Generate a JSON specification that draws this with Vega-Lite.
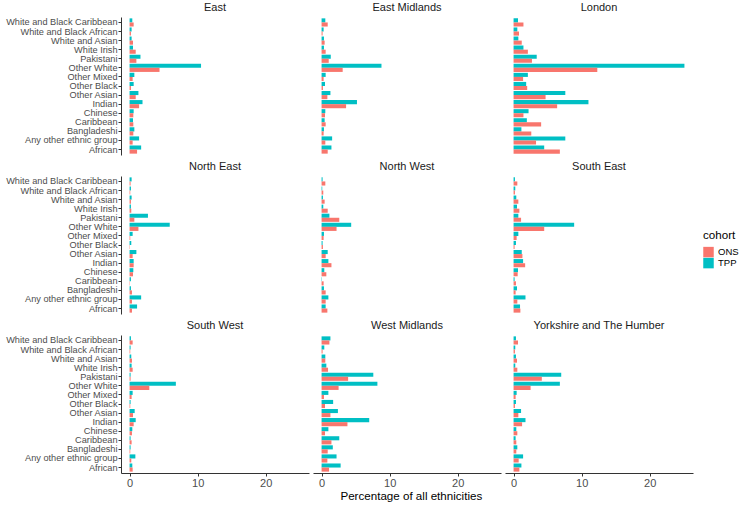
{
  "$schema": "https://vega.github.io/schema/vega-lite/v6.json",
  "padding": {"left": 5, "top": 2, "right": 5, "bottom": 5},
  "background": "white",
  "title": {"text": "Percentage of all ethnicities", "orient": "bottom", "anchor": "middle", "dx": 39, "fontSize": 11.6, "fontWeight": "normal", "color": "#000000", "offset": 3, "font": "Liberation Sans"},
  "datasets": {
    "d": [
      {"r":"East","e":"White and Black Caribbean","c":"TPP","v":0.4},{"r":"East","e":"White and Black Caribbean","c":"ONS","v":0.6},
      {"r":"East","e":"White and Black African","c":"TPP","v":0.3},{"r":"East","e":"White and Black African","c":"ONS","v":0.2},
      {"r":"East","e":"White and Asian","c":"TPP","v":0.3},{"r":"East","e":"White and Asian","c":"ONS","v":0.5},
      {"r":"East","e":"White Irish","c":"TPP","v":0.5},{"r":"East","e":"White Irish","c":"ONS","v":0.9},
      {"r":"East","e":"Pakistani","c":"TPP","v":1.6},{"r":"East","e":"Pakistani","c":"ONS","v":1.0},
      {"r":"East","e":"Other White","c":"TPP","v":10.5},{"r":"East","e":"Other White","c":"ONS","v":4.4},
      {"r":"East","e":"Other Mixed","c":"TPP","v":0.7},{"r":"East","e":"Other Mixed","c":"ONS","v":0.45},
      {"r":"East","e":"Other Black","c":"TPP","v":0.6},{"r":"East","e":"Other Black","c":"ONS","v":0.2},
      {"r":"East","e":"Other Asian","c":"TPP","v":1.3},{"r":"East","e":"Other Asian","c":"ONS","v":0.9},
      {"r":"East","e":"Indian","c":"TPP","v":1.9},{"r":"East","e":"Indian","c":"ONS","v":1.4},
      {"r":"East","e":"Chinese","c":"TPP","v":0.6},{"r":"East","e":"Chinese","c":"ONS","v":0.55},
      {"r":"East","e":"Caribbean","c":"TPP","v":0.5},{"r":"East","e":"Caribbean","c":"ONS","v":0.55},
      {"r":"East","e":"Bangladeshi","c":"TPP","v":0.7},{"r":"East","e":"Bangladeshi","c":"ONS","v":0.55},
      {"r":"East","e":"Any other ethnic group","c":"TPP","v":1.4},{"r":"East","e":"Any other ethnic group","c":"ONS","v":0.45},
      {"r":"East","e":"African","c":"TPP","v":1.7},{"r":"East","e":"African","c":"ONS","v":1.1},

      {"r":"East Midlands","e":"White and Black Caribbean","c":"TPP","v":0.55},{"r":"East Midlands","e":"White and Black Caribbean","c":"ONS","v":0.9},
      {"r":"East Midlands","e":"White and Black African","c":"TPP","v":0.3},{"r":"East Midlands","e":"White and Black African","c":"ONS","v":0.15},
      {"r":"East Midlands","e":"White and Asian","c":"TPP","v":0.35},{"r":"East Midlands","e":"White and Asian","c":"ONS","v":0.45},
      {"r":"East Midlands","e":"White Irish","c":"TPP","v":0.35},{"r":"East Midlands","e":"White Irish","c":"ONS","v":0.6},
      {"r":"East Midlands","e":"Pakistani","c":"TPP","v":1.35},{"r":"East Midlands","e":"Pakistani","c":"ONS","v":1.05},
      {"r":"East Midlands","e":"Other White","c":"TPP","v":8.8},{"r":"East Midlands","e":"Other White","c":"ONS","v":3.1},
      {"r":"East Midlands","e":"Other Mixed","c":"TPP","v":0.6},{"r":"East Midlands","e":"Other Mixed","c":"ONS","v":0.3},
      {"r":"East Midlands","e":"Other Black","c":"TPP","v":0.5},{"r":"East Midlands","e":"Other Black","c":"ONS","v":0.2},
      {"r":"East Midlands","e":"Other Asian","c":"TPP","v":1.3},{"r":"East Midlands","e":"Other Asian","c":"ONS","v":0.85},
      {"r":"East Midlands","e":"Indian","c":"TPP","v":5.2},{"r":"East Midlands","e":"Indian","c":"ONS","v":3.6},
      {"r":"East Midlands","e":"Chinese","c":"TPP","v":0.55},{"r":"East Midlands","e":"Chinese","c":"ONS","v":0.5},
      {"r":"East Midlands","e":"Caribbean","c":"TPP","v":0.45},{"r":"East Midlands","e":"Caribbean","c":"ONS","v":0.6},
      {"r":"East Midlands","e":"Bangladeshi","c":"TPP","v":0.35},{"r":"East Midlands","e":"Bangladeshi","c":"ONS","v":0.3},
      {"r":"East Midlands","e":"Any other ethnic group","c":"TPP","v":1.55},{"r":"East Midlands","e":"Any other ethnic group","c":"ONS","v":0.55},
      {"r":"East Midlands","e":"African","c":"TPP","v":1.45},{"r":"East Midlands","e":"African","c":"ONS","v":0.9},

      {"r":"London","e":"White and Black Caribbean","c":"TPP","v":0.65},{"r":"London","e":"White and Black Caribbean","c":"ONS","v":1.45},
      {"r":"London","e":"White and Black African","c":"TPP","v":0.55},{"r":"London","e":"White and Black African","c":"ONS","v":0.8},
      {"r":"London","e":"White and Asian","c":"TPP","v":0.7},{"r":"London","e":"White and Asian","c":"ONS","v":1.2},
      {"r":"London","e":"White Irish","c":"TPP","v":1.45},{"r":"London","e":"White Irish","c":"ONS","v":2.1},
      {"r":"London","e":"Pakistani","c":"TPP","v":3.4},{"r":"London","e":"Pakistani","c":"ONS","v":2.7},
      {"r":"London","e":"Other White","c":"TPP","v":25.1},{"r":"London","e":"Other White","c":"ONS","v":12.3},
      {"r":"London","e":"Other Mixed","c":"TPP","v":2.1},{"r":"London","e":"Other Mixed","c":"ONS","v":1.4},
      {"r":"London","e":"Other Black","c":"TPP","v":1.85},{"r":"London","e":"Other Black","c":"ONS","v":2.0},
      {"r":"London","e":"Other Asian","c":"TPP","v":7.6},{"r":"London","e":"Other Asian","c":"ONS","v":4.7},
      {"r":"London","e":"Indian","c":"TPP","v":11.0},{"r":"London","e":"Indian","c":"ONS","v":6.4},
      {"r":"London","e":"Chinese","c":"TPP","v":2.2},{"r":"London","e":"Chinese","c":"ONS","v":1.45},
      {"r":"London","e":"Caribbean","c":"TPP","v":1.95},{"r":"London","e":"Caribbean","c":"ONS","v":4.05},
      {"r":"London","e":"Bangladeshi","c":"TPP","v":1.15},{"r":"London","e":"Bangladeshi","c":"ONS","v":2.6},
      {"r":"London","e":"Any other ethnic group","c":"TPP","v":7.6},{"r":"London","e":"Any other ethnic group","c":"ONS","v":3.3},
      {"r":"London","e":"African","c":"TPP","v":4.5},{"r":"London","e":"African","c":"ONS","v":6.8},

      {"r":"North East","e":"White and Black Caribbean","c":"TPP","v":0.3},{"r":"North East","e":"White and Black Caribbean","c":"ONS","v":0.15},
      {"r":"North East","e":"White and Black African","c":"TPP","v":0.2},{"r":"North East","e":"White and Black African","c":"ONS","v":0.1},
      {"r":"North East","e":"White and Asian","c":"TPP","v":0.3},{"r":"North East","e":"White and Asian","c":"ONS","v":0.2},
      {"r":"North East","e":"White Irish","c":"TPP","v":0.2},{"r":"North East","e":"White Irish","c":"ONS","v":0.25},
      {"r":"North East","e":"Pakistani","c":"TPP","v":2.7},{"r":"North East","e":"Pakistani","c":"ONS","v":0.7},
      {"r":"North East","e":"Other White","c":"TPP","v":5.9},{"r":"North East","e":"Other White","c":"ONS","v":1.3},
      {"r":"North East","e":"Other Mixed","c":"TPP","v":0.45},{"r":"North East","e":"Other Mixed","c":"ONS","v":0.1},
      {"r":"North East","e":"Other Black","c":"TPP","v":0.25},{"r":"North East","e":"Other Black","c":"ONS","v":0.05},
      {"r":"North East","e":"Other Asian","c":"TPP","v":1.0},{"r":"North East","e":"Other Asian","c":"ONS","v":0.45},
      {"r":"North East","e":"Indian","c":"TPP","v":0.6},{"r":"North East","e":"Indian","c":"ONS","v":0.6},
      {"r":"North East","e":"Chinese","c":"TPP","v":0.55},{"r":"North East","e":"Chinese","c":"ONS","v":0.5},
      {"r":"North East","e":"Caribbean","c":"TPP","v":0.2},{"r":"North East","e":"Caribbean","c":"ONS","v":0.05},
      {"r":"North East","e":"Bangladeshi","c":"TPP","v":0.2},{"r":"North East","e":"Bangladeshi","c":"ONS","v":0.35},
      {"r":"North East","e":"Any other ethnic group","c":"TPP","v":1.7},{"r":"North East","e":"Any other ethnic group","c":"ONS","v":0.35},
      {"r":"North East","e":"African","c":"TPP","v":1.1},{"r":"North East","e":"African","c":"ONS","v":0.35},

      {"r":"North West","e":"White and Black Caribbean","c":"TPP","v":0.15},{"r":"North West","e":"White and Black Caribbean","c":"ONS","v":0.55},
      {"r":"North West","e":"White and Black African","c":"TPP","v":0.1},{"r":"North West","e":"White and Black African","c":"ONS","v":0.25},
      {"r":"North West","e":"White and Asian","c":"TPP","v":0.2},{"r":"North West","e":"White and Asian","c":"ONS","v":0.45},
      {"r":"North West","e":"White Irish","c":"TPP","v":0.25},{"r":"North West","e":"White Irish","c":"ONS","v":0.9},
      {"r":"North West","e":"Pakistani","c":"TPP","v":1.15},{"r":"North West","e":"Pakistani","c":"ONS","v":2.6},
      {"r":"North West","e":"Other White","c":"TPP","v":4.35},{"r":"North West","e":"Other White","c":"ONS","v":2.2},
      {"r":"North West","e":"Other Mixed","c":"TPP","v":0.35},{"r":"North West","e":"Other Mixed","c":"ONS","v":0.3},
      {"r":"North West","e":"Other Black","c":"TPP","v":0.15},{"r":"North West","e":"Other Black","c":"ONS","v":0.2},
      {"r":"North West","e":"Other Asian","c":"TPP","v":0.9},{"r":"North West","e":"Other Asian","c":"ONS","v":0.6},
      {"r":"North West","e":"Indian","c":"TPP","v":1.0},{"r":"North West","e":"Indian","c":"ONS","v":1.45},
      {"r":"North West","e":"Chinese","c":"TPP","v":0.4},{"r":"North West","e":"Chinese","c":"ONS","v":0.7},
      {"r":"North West","e":"Caribbean","c":"TPP","v":0.05},{"r":"North West","e":"Caribbean","c":"ONS","v":0.3},
      {"r":"North West","e":"Bangladeshi","c":"TPP","v":0.35},{"r":"North West","e":"Bangladeshi","c":"ONS","v":0.6},
      {"r":"North West","e":"Any other ethnic group","c":"TPP","v":1.0},{"r":"North West","e":"Any other ethnic group","c":"ONS","v":0.6},
      {"r":"North West","e":"African","c":"TPP","v":0.6},{"r":"North West","e":"African","c":"ONS","v":0.85},

      {"r":"South East","e":"White and Black Caribbean","c":"TPP","v":0.2},{"r":"South East","e":"White and Black Caribbean","c":"ONS","v":0.55},
      {"r":"South East","e":"White and Black African","c":"TPP","v":0.25},{"r":"South East","e":"White and Black African","c":"ONS","v":0.2},
      {"r":"South East","e":"White and Asian","c":"TPP","v":0.4},{"r":"South East","e":"White and Asian","c":"ONS","v":0.7},
      {"r":"South East","e":"White Irish","c":"TPP","v":0.5},{"r":"South East","e":"White Irish","c":"ONS","v":0.85},
      {"r":"South East","e":"Pakistani","c":"TPP","v":0.7},{"r":"South East","e":"Pakistani","c":"ONS","v":1.1},
      {"r":"South East","e":"Other White","c":"TPP","v":8.9},{"r":"South East","e":"Other White","c":"ONS","v":4.5},
      {"r":"South East","e":"Other Mixed","c":"TPP","v":0.7},{"r":"South East","e":"Other Mixed","c":"ONS","v":0.45},
      {"r":"South East","e":"Other Black","c":"TPP","v":0.35},{"r":"South East","e":"Other Black","c":"ONS","v":0.15},
      {"r":"South East","e":"Other Asian","c":"TPP","v":1.2},{"r":"South East","e":"Other Asian","c":"ONS","v":1.3},
      {"r":"South East","e":"Indian","c":"TPP","v":1.4},{"r":"South East","e":"Indian","c":"ONS","v":1.7},
      {"r":"South East","e":"Chinese","c":"TPP","v":0.65},{"r":"South East","e":"Chinese","c":"ONS","v":0.6},
      {"r":"South East","e":"Caribbean","c":"TPP","v":0.15},{"r":"South East","e":"Caribbean","c":"ONS","v":0.35},
      {"r":"South East","e":"Bangladeshi","c":"TPP","v":0.5},{"r":"South East","e":"Bangladeshi","c":"ONS","v":0.3},
      {"r":"South East","e":"Any other ethnic group","c":"TPP","v":1.75},{"r":"South East","e":"Any other ethnic group","c":"ONS","v":0.55},
      {"r":"South East","e":"African","c":"TPP","v":0.95},{"r":"South East","e":"African","c":"ONS","v":1.0},

      {"r":"South West","e":"White and Black Caribbean","c":"TPP","v":0.2},{"r":"South West","e":"White and Black Caribbean","c":"ONS","v":0.45},
      {"r":"South West","e":"White and Black African","c":"TPP","v":0.15},{"r":"South West","e":"White and Black African","c":"ONS","v":0.1},
      {"r":"South West","e":"White and Asian","c":"TPP","v":0.25},{"r":"South West","e":"White and Asian","c":"ONS","v":0.35},
      {"r":"South West","e":"White Irish","c":"TPP","v":0.3},{"r":"South West","e":"White Irish","c":"ONS","v":0.45},
      {"r":"South West","e":"Pakistani","c":"TPP","v":0.15},{"r":"South West","e":"Pakistani","c":"ONS","v":0.15},
      {"r":"South West","e":"Other White","c":"TPP","v":6.8},{"r":"South West","e":"Other White","c":"ONS","v":2.9},
      {"r":"South West","e":"Other Mixed","c":"TPP","v":0.45},{"r":"South West","e":"Other Mixed","c":"ONS","v":0.3},
      {"r":"South West","e":"Other Black","c":"TPP","v":0.15},{"r":"South West","e":"Other Black","c":"ONS","v":0.1},
      {"r":"South West","e":"Other Asian","c":"TPP","v":0.75},{"r":"South West","e":"Other Asian","c":"ONS","v":0.5},
      {"r":"South West","e":"Indian","c":"TPP","v":0.9},{"r":"South West","e":"Indian","c":"ONS","v":0.6},
      {"r":"South West","e":"Chinese","c":"TPP","v":0.4},{"r":"South West","e":"Chinese","c":"ONS","v":0.35},
      {"r":"South West","e":"Caribbean","c":"TPP","v":0.15},{"r":"South West","e":"Caribbean","c":"ONS","v":0.3},
      {"r":"South West","e":"Bangladeshi","c":"TPP","v":0.15},{"r":"South West","e":"Bangladeshi","c":"ONS","v":0.1},
      {"r":"South West","e":"Any other ethnic group","c":"TPP","v":0.85},{"r":"South West","e":"Any other ethnic group","c":"ONS","v":0.25},
      {"r":"South West","e":"African","c":"TPP","v":0.4},{"r":"South West","e":"African","c":"ONS","v":0.45},

      {"r":"West Midlands","e":"White and Black Caribbean","c":"TPP","v":1.3},{"r":"West Midlands","e":"White and Black Caribbean","c":"ONS","v":1.15},
      {"r":"West Midlands","e":"White and Black African","c":"TPP","v":0.4},{"r":"West Midlands","e":"White and Black African","c":"ONS","v":0.15},
      {"r":"West Midlands","e":"White and Asian","c":"TPP","v":0.55},{"r":"West Midlands","e":"White and Asian","c":"ONS","v":0.55},
      {"r":"West Midlands","e":"White Irish","c":"TPP","v":0.7},{"r":"West Midlands","e":"White Irish","c":"ONS","v":0.95},
      {"r":"West Midlands","e":"Pakistani","c":"TPP","v":7.6},{"r":"West Midlands","e":"Pakistani","c":"ONS","v":3.9},
      {"r":"West Midlands","e":"Other White","c":"TPP","v":8.2},{"r":"West Midlands","e":"Other White","c":"ONS","v":2.5},
      {"r":"West Midlands","e":"Other Mixed","c":"TPP","v":1.0},{"r":"West Midlands","e":"Other Mixed","c":"ONS","v":0.35},
      {"r":"West Midlands","e":"Other Black","c":"TPP","v":1.7},{"r":"West Midlands","e":"Other Black","c":"ONS","v":0.5},
      {"r":"West Midlands","e":"Other Asian","c":"TPP","v":2.4},{"r":"West Midlands","e":"Other Asian","c":"ONS","v":1.3},
      {"r":"West Midlands","e":"Indian","c":"TPP","v":7.0},{"r":"West Midlands","e":"Indian","c":"ONS","v":3.8},
      {"r":"West Midlands","e":"Chinese","c":"TPP","v":1.0},{"r":"West Midlands","e":"Chinese","c":"ONS","v":0.5},
      {"r":"West Midlands","e":"Caribbean","c":"TPP","v":2.6},{"r":"West Midlands","e":"Caribbean","c":"ONS","v":1.45},
      {"r":"West Midlands","e":"Bangladeshi","c":"TPP","v":1.65},{"r":"West Midlands","e":"Bangladeshi","c":"ONS","v":0.9},
      {"r":"West Midlands","e":"Any other ethnic group","c":"TPP","v":2.2},{"r":"West Midlands","e":"Any other ethnic group","c":"ONS","v":0.85},
      {"r":"West Midlands","e":"African","c":"TPP","v":2.8},{"r":"West Midlands","e":"African","c":"ONS","v":1.1},

      {"r":"Yorkshire and The Humber","e":"White and Black Caribbean","c":"TPP","v":0.35},{"r":"Yorkshire and The Humber","e":"White and Black Caribbean","c":"ONS","v":0.65},
      {"r":"Yorkshire and The Humber","e":"White and Black African","c":"TPP","v":0.25},{"r":"Yorkshire and The Humber","e":"White and Black African","c":"ONS","v":0.2},
      {"r":"Yorkshire and The Humber","e":"White and Asian","c":"TPP","v":0.35},{"r":"Yorkshire and The Humber","e":"White and Asian","c":"ONS","v":0.5},
      {"r":"Yorkshire and The Humber","e":"White Irish","c":"TPP","v":0.25},{"r":"Yorkshire and The Humber","e":"White Irish","c":"ONS","v":0.55},
      {"r":"Yorkshire and The Humber","e":"Pakistani","c":"TPP","v":7.0},{"r":"Yorkshire and The Humber","e":"Pakistani","c":"ONS","v":4.15},
      {"r":"Yorkshire and The Humber","e":"Other White","c":"TPP","v":6.8},{"r":"Yorkshire and The Humber","e":"Other White","c":"ONS","v":2.5},
      {"r":"Yorkshire and The Humber","e":"Other Mixed","c":"TPP","v":0.45},{"r":"Yorkshire and The Humber","e":"Other Mixed","c":"ONS","v":0.3},
      {"r":"Yorkshire and The Humber","e":"Other Black","c":"TPP","v":0.35},{"r":"Yorkshire and The Humber","e":"Other Black","c":"ONS","v":0.2},
      {"r":"Yorkshire and The Humber","e":"Other Asian","c":"TPP","v":1.1},{"r":"Yorkshire and The Humber","e":"Other Asian","c":"ONS","v":0.7},
      {"r":"Yorkshire and The Humber","e":"Indian","c":"TPP","v":1.75},{"r":"Yorkshire and The Humber","e":"Indian","c":"ONS","v":1.25},
      {"r":"Yorkshire and The Humber","e":"Chinese","c":"TPP","v":0.4},{"r":"Yorkshire and The Humber","e":"Chinese","c":"ONS","v":0.55},
      {"r":"Yorkshire and The Humber","e":"Caribbean","c":"TPP","v":0.3},{"r":"Yorkshire and The Humber","e":"Caribbean","c":"ONS","v":0.4},
      {"r":"Yorkshire and The Humber","e":"Bangladeshi","c":"TPP","v":0.55},{"r":"Yorkshire and The Humber","e":"Bangladeshi","c":"ONS","v":0.4},
      {"r":"Yorkshire and The Humber","e":"Any other ethnic group","c":"TPP","v":1.4},{"r":"Yorkshire and The Humber","e":"Any other ethnic group","c":"ONS","v":0.75},
      {"r":"Yorkshire and The Humber","e":"African","c":"TPP","v":1.15},{"r":"Yorkshire and The Humber","e":"African","c":"ONS","v":0.85}
    ]
  },
  "data": {"name": "d"},
  "facet": {
    "field": "r",
    "type": "nominal",
    "title": null,
    "header": {"labelOrient": "top", "labelFontSize": 11, "labelColor": "#1a1a1a", "labelPadding": 4, "labelFont": "Liberation Sans"}
  },
  "columns": 3,
  "spacing": {"row": 6, "column": 4},
  "spec": {
    "width": 188,
    "height": 138,
    "mark": {"type": "bar"},
    "encoding": {
      "y": {
        "field": "e",
        "type": "nominal",
        "title": null,
        "sort": ["White and Black Caribbean","White and Black African","White and Asian","White Irish","Pakistani","Other White","Other Mixed","Other Black","Other Asian","Indian","Chinese","Caribbean","Bangladeshi","Any other ethnic group","African"],
        "scale": {"paddingInner": 0.1, "paddingOuter": 0.15},
        "axis": {"labelFontSize": 9.2, "labelColor": "#4d4d4d", "tickColor": "#333333", "domainColor": "#333333", "tickSize": 3, "labelPadding": 1}
      },
      "yOffset": {"field": "c", "type": "nominal", "sort": ["TPP", "ONS"]},
      "x": {
        "field": "v",
        "type": "quantitative",
        "title": null,
        "scale": {"domain": [-1.26, 26.36], "nice": false, "zero": false},
        "axis": {"values": [0, 10, 20], "labelFontSize": 11, "labelColor": "#4d4d4d", "tickColor": "#333333", "domainColor": "#333333", "tickSize": 3, "labelPadding": 1}
      },
      "color": {
        "field": "c",
        "type": "nominal",
        "title": "cohort",
        "scale": {"domain": ["ONS", "TPP"], "range": ["#F8766D", "#00BFC4"]},
        "legend": {"orient": "none", "legendX": 582, "legendY": 213, "symbolType": "square", "symbolSize": 110, "symbolStrokeWidth": 0, "titleFontSize": 11.6, "titleFontWeight": "normal", "labelFontSize": 9.5, "titleColor": "#000000", "labelColor": "#000000", "rowPadding": 0, "titlePadding": 5, "labelOffset": 4}
      }
    }
  },
  "config": {
    "font": "Liberation Sans",
    "view": {"stroke": null},
    "axis": {"grid": false},
    "legend": {"titleFont": "Liberation Sans", "labelFont": "Liberation Sans"}
  }
}
